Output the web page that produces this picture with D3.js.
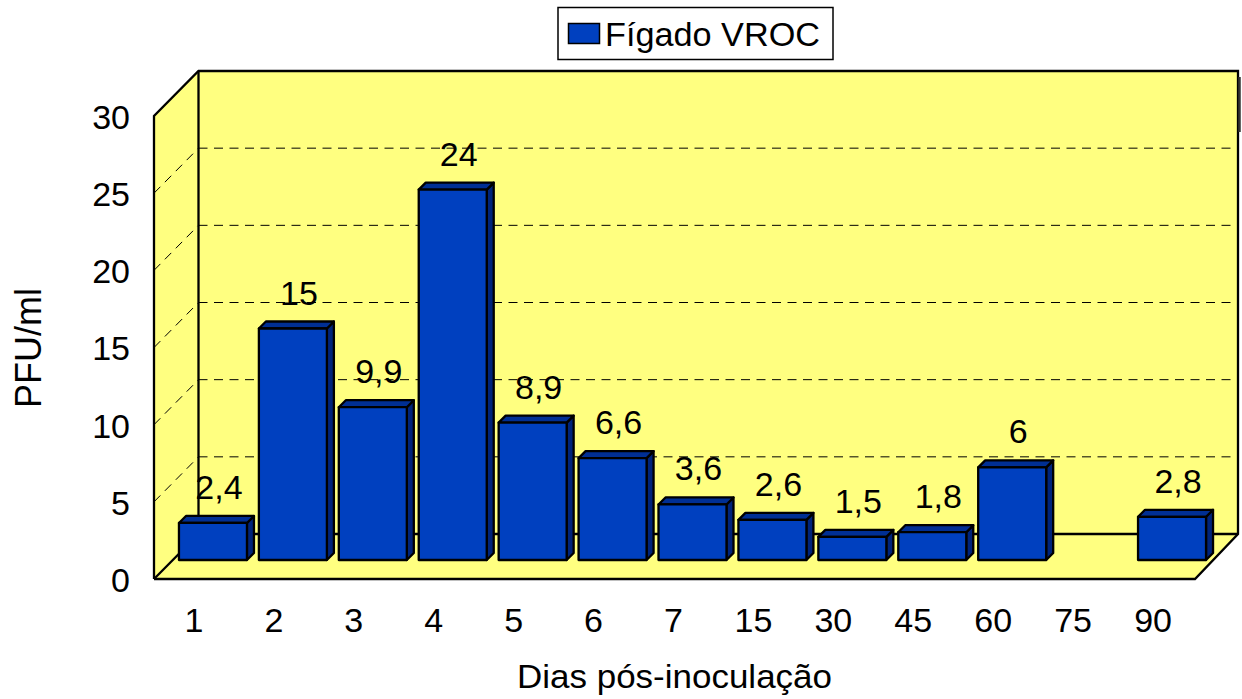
<!DOCTYPE html>
<html><head><meta charset="utf-8">
<script src="https://cdn.jsdelivr.net/npm/d3@7"></script>
<style>
html,body{margin:0;padding:0;background:#fff}
svg{display:block}
text{font-family:"Liberation Sans",Arial,sans-serif;fill:#000}
</style></head><body><div id="chart"></div>
<script>
const categories=["1","2","3","4","5","6","7","15","30","45","60","75","90"];
const values=[2.4,15,9.9,24,8.9,6.6,3.6,2.6,1.5,1.8,6,null,2.8];
const valueLabels=["2,4","15","9,9","24","8,9","6,6","3,6","2,6","1,5","1,8","6","","2,8"];
const yTicks=[0,5,10,15,20,25,30];
const seriesName="Fígado VROC";
const xTitle="Dias pós-inoculação";
const yTitle="PFU/ml";

const W=1242,H=699,FS=34;
const x0=154,x1=1195,yBase=579,yTop=116,depth=44.5;
const barInset=19,barDepth=7,barW=68;
const WALL="#FFFF80",FRONT="#0040BF",SIDE="#00247A",TOP="#002F94";

const svg=d3.select("#chart").append("svg").attr("width",W).attr("height",H);
const x=d3.scaleBand().domain(categories).range([x0,1193]);
const y=d3.scaleLinear().domain([0,30]).range([yBase,yTop]);
const line=d3.line();

// walls and floor
const bx0=x0+depth,bx1=x1+43,by=yBase-depth-0.5,byTop=yTop-depth-0.5;
svg.append("path").attr("d",line([[bx0,byTop],[bx1,byTop],[bx1,by],[bx0,by]])+"Z").attr("fill",WALL);
svg.append("path").attr("d",line([[x0,yTop],[bx0,byTop],[bx0,by],[x0,yBase]])+"Z").attr("fill",WALL);
svg.append("path").attr("d",line([[x0,yBase],[bx0,by],[bx1,by],[x1,yBase]])+"Z").attr("fill",WALL);

// gridlines
const gridVals=yTicks.filter(v=>v>0&&v<30);
const grid=svg.append("g").attr("fill","none").attr("stroke","#000").attr("stroke-width",1).attr("stroke-dasharray","9 6.5");
gridVals.forEach(v=>{
  const gy=y(v)-depth-0.5;
  grid.append("path").attr("d",line([[bx0,gy],[bx1,gy]]));
  grid.append("path").attr("d",line([[x0,y(v)],[bx0,gy]]));
});

// frame
const frame=svg.append("g").attr("fill","none").attr("stroke","#000").attr("stroke-width",2.3);
frame.append("path").attr("d",line([[x0,yBase],[x0,yTop],[bx0,byTop],[bx1,byTop],[bx1,by],[x1,yBase],[x0,yBase]]));
frame.append("path").attr("d",line([[bx0,byTop],[bx0,by],[x0,yBase]]));
frame.append("path").attr("d",line([[bx0,by],[bx1,by]]));
svg.append("path").attr("d",line([[1239.5,77],[1239.5,132]])).attr("stroke","#333").attr("stroke-width",2.5);

// bars
const bars=svg.append("g").attr("stroke","#000").attr("stroke-width",2.3).attr("stroke-linejoin","round");
categories.forEach((c,i)=>{
  const v=values[i];
  if(v==null)return;
  const l=x(c)+x.bandwidth()/2+barInset-barW/2,r=l+barW;
  const t=y(v)-barInset,b=yBase-barInset;
  bars.append("path").attr("fill",SIDE).attr("d",line([[r,t],[r+barDepth,t-barDepth],[r+barDepth,b-barDepth],[r,b]])+"Z");
  bars.append("path").attr("fill",TOP).attr("d",line([[l,t],[l+barDepth,t-barDepth],[r+barDepth,t-barDepth],[r,t]])+"Z");
  bars.append("path").attr("fill",FRONT).attr("d",line([[l,t],[r,t],[r,b],[l,b]])+"Z");
});

// value labels
svg.append("g").selectAll("text").data(categories).join("text")
  .attr("x",c=>x(c)+x.bandwidth()/2+barInset+6)
  .attr("y",(c,i)=>values[i]==null?0:y(values[i])-barInset-24)
  .attr("text-anchor","middle").attr("font-size",FS)
  .text((c,i)=>valueLabels[i]);

// axes
const ax=d3.axisBottom(x).tickSize(0).tickPadding(0);
const gx=svg.append("g").attr("transform","translate(0,600)").call(ax);
gx.select(".domain").remove();
gx.selectAll("text").attr("font-size",FS).attr("font-family",null).attr("dy",null).attr("y",32);
const ay=d3.axisLeft(y).tickValues(yTicks).tickSize(0).tickPadding(0);
const gy=svg.append("g").attr("transform","translate(130,1.5)").call(ay);
gy.select(".domain").remove();
gy.selectAll("text").attr("font-size",FS).attr("font-family",null);

// titles
svg.append("text").attr("x",674.5).attr("y",688).attr("text-anchor","middle").attr("font-size",33).attr("textLength",315).attr("lengthAdjust","spacingAndGlyphs").text(xTitle);
svg.append("text").attr("transform","translate(41,348) rotate(-90)").attr("text-anchor","middle").attr("font-size",36).text(yTitle);

// legend
const lg=svg.append("g");
lg.append("rect").attr("x",558).attr("y",7.5).attr("width",275).attr("height",52).attr("fill","#fff").attr("stroke","#000").attr("stroke-width",1.5);
lg.append("rect").attr("x",568.5).attr("y",23.5).attr("width",31).attr("height",20).attr("fill",FRONT).attr("stroke","#000").attr("stroke-width",1.5);
lg.append("text").attr("x",605).attr("y",46).attr("font-size",FS).attr("textLength",215).attr("lengthAdjust","spacingAndGlyphs").text(seriesName);
</script></body></html>
